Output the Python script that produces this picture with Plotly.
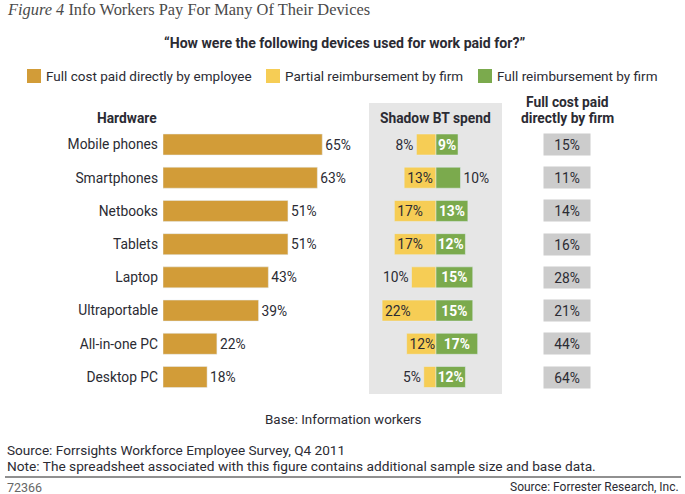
import plotly.graph_objects as go

# ---- data ----
devices = ["Mobile phones", "Smartphones", "Netbooks", "Tablets", "Laptop",
           "Ultraportable", "All-in-one PC", "Desktop PC"]
employee_paid = [65, 63, 51, 51, 43, 39, 22, 18]
partial_reimb = [8, 13, 17, 17, 10, 22, 12, 5]
full_reimb = [9, 10, 13, 12, 15, 15, 17, 12]
firm_paid = [15, 11, 14, 16, 28, 21, 44, 64]

# ---- styling ----
W, H = 685, 494
ORANGE = "#D29C38"
YELLOW = "#F6CD55"
GREEN = "#7BAA4D"
GREYBOX = "#CCCCCC"
PANEL = "#E6E6E6"
TXT = "#2b2b33"
FONT = "Roboto"
BODY = 13.8
PXPCT = 2.45  # pixels per percentage point


def px(x):
    return x / W


def py(y):
    return 1 - y / H


partial_pos = ["outside", "inside", "inside", "inside", "outside", "inside", "inside", "outside"]
full_pos = ["inside", "outside", "inside", "inside", "inside", "inside", "inside", "inside"]

# row geometry
row0, rowN = 144.5, 377.0
step = (rowN - row0) / (len(devices) - 1)
ytop = row0 - step / 2
ybot = rowN + step / 2

fig = go.Figure()

fig.add_trace(go.Bar(
    y=devices, x=employee_paid, orientation="h", marker_color=ORANGE,
    text=[f"{v}%" for v in employee_paid], textposition="outside",
    textfont=dict(color=TXT, size=BODY, family=FONT), cliponaxis=False,
    xaxis="x", yaxis="y", showlegend=False, name="Full cost paid directly by employee",
))

fig.add_trace(go.Bar(
    y=devices, x=[-v for v in partial_reimb], orientation="h", marker_color=YELLOW,
    text=[f"{v}%" for v in partial_reimb], textposition=partial_pos,
    insidetextanchor="end",
    textfont=dict(color=TXT, size=BODY, family=FONT), cliponaxis=False,
    xaxis="x2", yaxis="y", showlegend=False, name="Partial reimbursement by firm",
))

fig.add_trace(go.Bar(
    y=devices, x=full_reimb, orientation="h", marker_color=GREEN,
    text=[f"<b>{v}%</b>" if p == "inside" else f"{v}%" for v, p in zip(full_reimb, full_pos)],
    textposition=full_pos, insidetextanchor="middle",
    insidetextfont=dict(color="white", size=BODY, family=FONT),
    outsidetextfont=dict(color=TXT, size=BODY, family=FONT),
    cliponaxis=False,
    xaxis="x2", yaxis="y", showlegend=False, name="Full reimbursement by firm",
))

bar_frac = 21 / step

zero1 = 163
x1_end = 369
zero2 = 436
p_left, p_right = 369, 502

fig.update_layout(
    width=W, height=H, autosize=False,
    margin=dict(l=0, r=0, t=0, b=0),
    paper_bgcolor="white", plot_bgcolor="rgba(0,0,0,0)",
    barmode="overlay", bargap=1 - bar_frac,
    font=dict(family=FONT, color=TXT, size=BODY),
    uniformtext=dict(minsize=BODY, mode="show"),
    xaxis=dict(domain=[px(zero1), px(x1_end)], range=[0, (x1_end - zero1) / PXPCT],
               visible=False, fixedrange=True),
    xaxis2=dict(domain=[px(p_left), px(p_right)],
                range=[-(zero2 - p_left) / PXPCT, (p_right - zero2) / PXPCT],
                visible=False, anchor="y", fixedrange=True),
    yaxis=dict(domain=[py(ybot), py(ytop)], range=[len(devices) - 0.5, -0.5],
               type="category", showgrid=False, zeroline=False, showline=False,
               ticks="", ticklabelstandoff=4,
               tickfont=dict(size=BODY, color=TXT, family=FONT), fixedrange=True),
)

shapes = []
# grey panel
shapes.append(dict(type="rect", xref="paper", yref="paper", layer="below",
                   x0=px(p_left), x1=px(p_right), y0=py(394), y1=py(103),
                   fillcolor=PANEL, line_width=0))
# footer rule
shapes.append(dict(type="line", xref="paper", yref="paper",
                   x0=px(5), x1=px(681), y0=py(477), y1=py(477),
                   line=dict(color="#222", width=1.2)))

annotations = []
# title
annotations.append(dict(
    xref="paper", yref="paper", x=px(5), y=py(10), xanchor="left", yanchor="middle",
    showarrow=False,
    text="<i>Figure 4</i> Info Workers Pay For Many Of Their Devices",
    font=dict(family="Liberation Serif", size=16.4, color="#4a4a4a")))
# subtitle
annotations.append(dict(
    xref="paper", yref="paper", x=px(344), y=py(43), xanchor="center", yanchor="middle",
    showarrow=False,
    text="<b>\u201cHow were the following devices used for work paid for?\u201d</b>",
    font=dict(family=FONT, size=14.1, color=TXT)))

# manual legend
legend_items = [("Full cost paid directly by employee", ORANGE, 27),
                ("Partial reimbursement by firm", YELLOW, 266),
                ("Full reimbursement by firm", GREEN, 478)]
for label, col, x0 in legend_items:
    shapes.append(dict(type="rect", xref="paper", yref="paper",
                       x0=px(x0), x1=px(x0 + 14), y0=py(83), y1=py(69),
                       fillcolor=col, line_width=0))
    annotations.append(dict(xref="paper", yref="paper", x=px(x0 + 17), y=py(76),
                            xanchor="left", yanchor="middle", showarrow=False,
                            text=label, font=dict(family=FONT, size=13.5, color=TXT)))

# column headers
annotations.append(dict(xref="paper", yref="paper", x=px(159), y=py(118),
                        xanchor="right", yanchor="middle", showarrow=False,
                        text="<b>Hardware</b>", font=dict(family=FONT, size=BODY, color=TXT)))
annotations.append(dict(xref="paper", yref="paper", x=px(435), y=py(118),
                        xanchor="center", yanchor="middle", showarrow=False,
                        text="<b>Shadow BT spend</b>", font=dict(family=FONT, size=BODY, color=TXT)))
annotations.append(dict(xref="paper", yref="paper", x=px(567), y=py(102),
                        xanchor="center", yanchor="middle", showarrow=False,
                        text="<b>Full cost paid</b>",
                        font=dict(family=FONT, size=BODY, color=TXT)))
annotations.append(dict(xref="paper", yref="paper", x=px(567), y=py(118),
                        xanchor="center", yanchor="middle", showarrow=False,
                        text="<b>directly by firm</b>",
                        font=dict(family=FONT, size=BODY, color=TXT)))

# firm-paid boxes
for dev, v in zip(devices, firm_paid):
    annotations.append(dict(xref="paper", yref="y", x=px(567), y=dev,
                            xanchor="center", yanchor="middle", showarrow=False,
                            text=f"{v}%", bgcolor=GREYBOX, width=46, height=21,
                            borderpad=0, align="center", valign="middle",
                            font=dict(family=FONT, size=BODY, color=TXT)))

# base & sources
annotations.append(dict(xref="paper", yref="paper", x=px(343), y=py(419),
                        xanchor="center", yanchor="middle", showarrow=False,
                        text="Base: Information workers",
                        font=dict(family=FONT, size=13.4, color=TXT)))
annotations.append(dict(xref="paper", yref="paper", x=px(5), y=py(450),
                        xanchor="left", yanchor="middle", showarrow=False,
                        text="Source: Forrsights Workforce Employee Survey, Q4 2011",
                        font=dict(family=FONT, size=13.6, color=TXT)))
annotations.append(dict(xref="paper", yref="paper", x=px(5), y=py(466),
                        xanchor="left", yanchor="middle", showarrow=False,
                        text="Note: The spreadsheet associated with this figure contains additional sample size and base data.",
                        font=dict(family=FONT, size=13.7, color=TXT)))
annotations.append(dict(xref="paper", yref="paper", x=px(5), y=py(487),
                        xanchor="left", yanchor="middle", showarrow=False,
                        text="72366", font=dict(family=FONT, size=12.5, color="#666")))
annotations.append(dict(xref="paper", yref="paper", x=px(681), y=py(487),
                        xanchor="right", yanchor="middle", showarrow=False,
                        text="Source: Forrester Research, Inc.",
                        font=dict(family=FONT, size=12, color=TXT)))

fig.update_layout(shapes=shapes, annotations=annotations)

fig.write_html(
    "out.html",
    config={"displayModeBar": False},
    post_script="document.body.style.margin='0';document.body.style.padding='0';",
)
